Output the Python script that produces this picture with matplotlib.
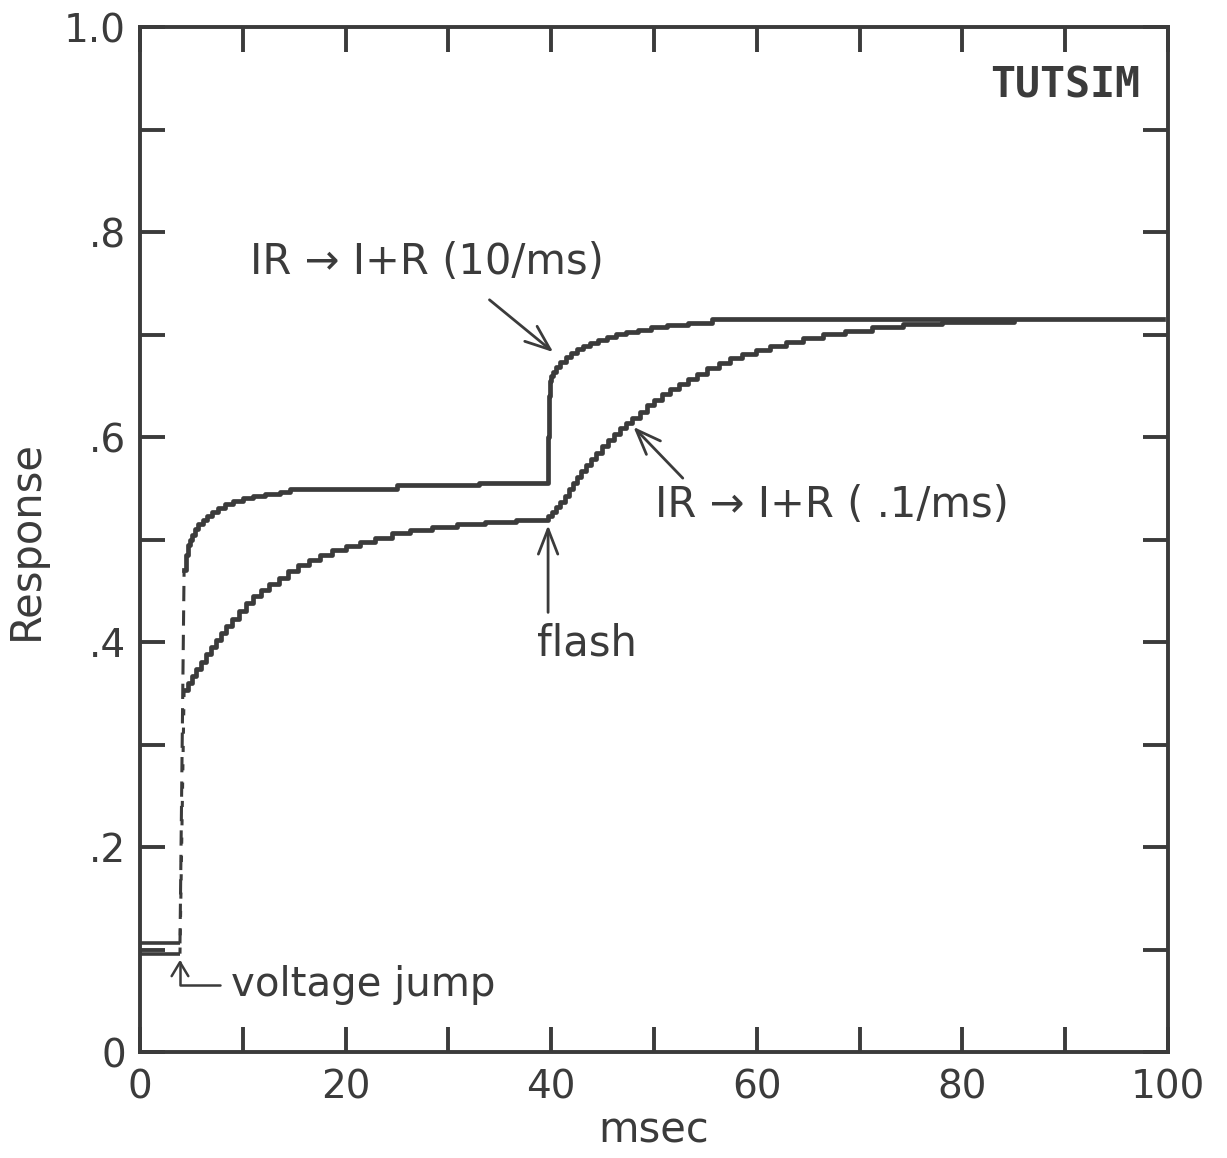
import matplotlib
matplotlib.use("Agg")
import matplotlib.pyplot as plt
from matplotlib.ticker import MultipleLocator, FixedFormatter, FixedLocator

plt.rcParams['font.family'] = ['DejaVu Sans']

INK = '#3b3b3b'

# resting level before the voltage jump
t_rest = [0.0, 3.9]
rest_fast = 0.106
rest_slow = 0.096

# IR -> I+R (10/ms)
t_fast = [4.3, 4.5, 4.7, 4.9, 5.1, 5.4, 5.7, 6.1, 6.5, 7.0, 7.6, 8.3, 9.1, 10.0,
          11.0, 12.2, 13.6, 14.6, 25.0, 33.0,
          39.7, 39.8, 39.9, 40.0, 40.2, 40.5, 40.9, 41.4, 41.9, 42.5, 43.1, 43.8,
          44.6, 45.4, 46.3, 47.3, 48.4, 49.7, 51.3, 53.3, 55.6, 99.5]
y_fast = [0.470, 0.485, 0.495, 0.500, 0.505, 0.510, 0.515, 0.519, 0.523, 0.527,
          0.531, 0.535, 0.538, 0.541, 0.543, 0.545, 0.546, 0.549, 0.553, 0.555,
          0.600, 0.640, 0.655, 0.660, 0.664, 0.668, 0.673, 0.678, 0.682, 0.686,
          0.689, 0.692, 0.695, 0.698, 0.701, 0.703, 0.705, 0.707, 0.709, 0.711,
          0.715, 0.715]

# IR -> I+R (.1/ms)
t_slow = [4.3, 4.7, 5.1, 5.5, 5.9, 6.4, 6.9, 7.4, 7.9, 8.4, 9.0, 9.6, 10.3, 11.0,
          11.8, 12.6, 13.5, 14.4, 15.4, 16.4, 17.5, 18.7, 20.0, 21.4, 22.9, 24.5,
          26.3, 28.4, 30.8, 33.6, 36.6,
          39.7, 40.1, 40.5, 40.9, 41.3, 41.7, 42.1, 42.5, 42.9, 43.4, 43.9, 44.4,
          44.9, 45.5, 46.1, 46.7, 47.3, 47.9, 48.6, 49.3, 50.0, 50.8, 51.6, 52.4,
          53.3, 54.2, 55.2, 56.3, 57.4, 58.6, 59.9, 61.3, 62.8, 64.5, 66.4, 68.6,
          71.2, 74.2, 78.0, 85.0]
y_slow = [0.353, 0.360, 0.367, 0.374, 0.381, 0.388, 0.395, 0.402, 0.409, 0.416,
          0.423, 0.430, 0.438, 0.445, 0.451, 0.457, 0.463, 0.469, 0.475, 0.480,
          0.485, 0.490, 0.494, 0.498, 0.502, 0.506, 0.509, 0.512, 0.515, 0.517,
          0.519,
          0.523, 0.527, 0.532, 0.537, 0.543, 0.549, 0.555, 0.561, 0.567, 0.573,
          0.579, 0.585, 0.591, 0.597, 0.603, 0.609, 0.614, 0.619, 0.625, 0.631,
          0.636, 0.642, 0.647, 0.652, 0.657, 0.662, 0.667, 0.672, 0.677, 0.681,
          0.685, 0.689, 0.693, 0.697, 0.701, 0.704, 0.707, 0.710, 0.712, 0.713]

x_ticks = [0, 20, 40, 60, 80, 100]
x_ticklabels = ['0', '20', '40', '60', '80', '100']
y_ticks = [0, 0.2, 0.4, 0.6, 0.8, 1.0]
y_ticklabels = ['0', '.2', '.4', '.6', '.8', '1.0']

fig = plt.figure(figsize=(12.27, 11.58), dpi=100)
ax = fig.add_axes([0.114, 0.0915, 0.838, 0.885])

lw = 3.4
for base in (rest_fast, rest_slow):
    ax.plot(t_rest, [base, base], color=INK, lw=2.6, solid_capstyle='butt')

# jump from rest (broken trace in the original)
ax.plot([t_rest[-1], t_fast[0]], [rest_fast, y_fast[0]], color=INK, lw=2.2,
        linestyle=(0, (5, 3)))
ax.plot([t_rest[-1], t_slow[0]], [rest_slow, y_slow[0]], color=INK, lw=2.2,
        linestyle=(0, (2, 4)))

ax.plot(t_fast, y_fast, drawstyle='steps-post', color=INK, lw=lw)
ax.plot(t_slow, y_slow, drawstyle='steps-post', color=INK, lw=lw)

ax.set_xlim(0, 100)
ax.set_ylim(0, 1.0)
ax.xaxis.set_major_locator(FixedLocator(x_ticks))
ax.xaxis.set_major_formatter(FixedFormatter(x_ticklabels))
ax.xaxis.set_minor_locator(MultipleLocator(10))
ax.yaxis.set_major_locator(FixedLocator(y_ticks))
ax.yaxis.set_major_formatter(FixedFormatter(y_ticklabels))
ax.yaxis.set_minor_locator(MultipleLocator(0.1))

ax.tick_params(which='both', direction='in', top=True, right=True,
               length=18, width=2.8, color=INK)
ax.tick_params(axis='x', which='major', labelsize=28, labelcolor=INK, pad=12)
ax.tick_params(axis='y', which='major', labelsize=28, labelcolor=INK, pad=10)
for s in ax.spines.values():
    s.set_linewidth(2.8)
    s.set_color(INK)

ax.set_xlabel('msec', fontsize=30, color=INK, labelpad=2)
ax.set_ylabel('Response', fontsize=30, color=INK, labelpad=12)

arrow = dict(arrowstyle='->,head_length=0.9,head_width=0.35', color=INK, lw=2.0,
             shrinkA=0, shrinkB=0, mutation_scale=20)

ax.text(10.7, 0.771, 'IR \u2192 I+R (10/ms)', fontsize=30, color=INK,
        ha='left', va='center')
ax.annotate('', xy=(40.2, 0.683), xytext=(34.0, 0.734), arrowprops=arrow)

ax.text(50.1, 0.534, 'IR \u2192 I+R ( .1/ms)', fontsize=30, color=INK,
        ha='left', va='center')
ax.annotate('', xy=(48.0, 0.610), xytext=(52.8, 0.560), arrowprops=arrow)

ax.text(43.5, 0.399, 'flash', fontsize=30, color=INK, ha='center', va='center')
ax.annotate('', xy=(39.7, 0.514), xytext=(39.7, 0.429), arrowprops=arrow)

jump_arrow = dict(arrow, arrowstyle='->,head_length=0.5,head_width=0.3',
                  connectionstyle='angle,angleA=0,angleB=90,rad=0',
                  relpos=(0, 0.5), shrinkA=6, lw=1.8)
ax.annotate('voltage jump', xy=(3.9, 0.090), xytext=(8.9, 0.065),
            fontsize=29, color=INK, ha='left', va='center',
            arrowprops=jump_arrow)

ax.text(90, 0.943, 'TUTSIM', fontsize=30, fontweight='bold', color=INK,
        family='DejaVu Sans Mono', ha='center', va='center')

fig.savefig('out.png', dpi=100, facecolor='white')
